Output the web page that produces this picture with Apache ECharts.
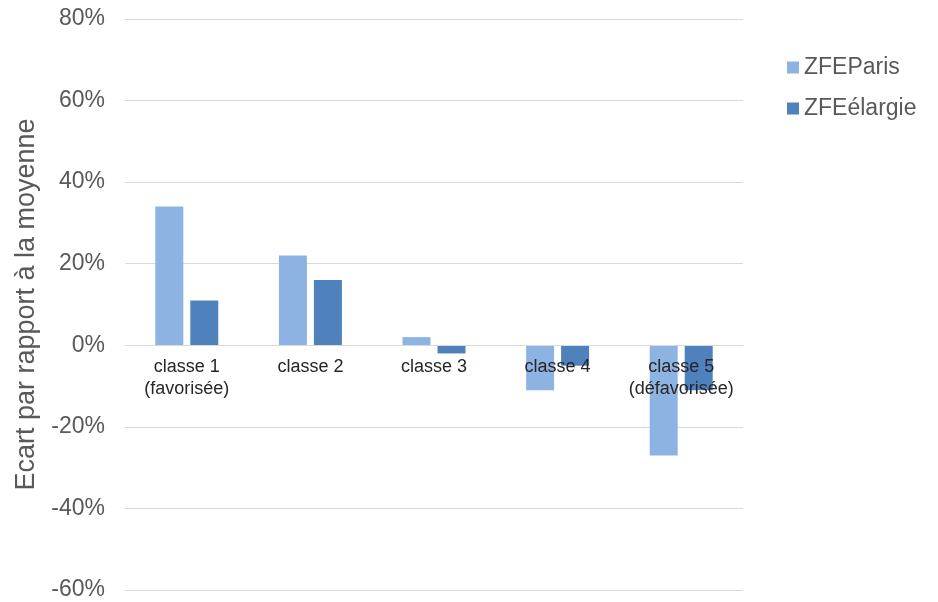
<!DOCTYPE html>
<html>
<head>
<meta charset="utf-8">
<script src="https://cdn.jsdelivr.net/npm/echarts@6/dist/echarts.min.js"></script>
<style>
  html, body { margin: 0; padding: 0; background: #ffffff; }
  #chart { width: 938px; height: 602px; }
</style>
</head>
<body>
<div id="chart"></div>
<script>
// Income classes along the horizontal axis
const categories = ['classe 1\n(favorisée)', 'classe 2', 'classe 3', 'classe 4', 'classe 5\n(défavorisée)'];
// Deviation from the mean, in percent
const zfeParis = [34, 22, 2, -11, -27];
const zfeElargie = [11, 16, -2, -5, -11];
// Value axis bounds and step (percent)
const yMin = -60;
const yMax = 80;
const yStep = 20;

const W = 938, H = 602;
const gridTop = 19, gridBottom = 12;
const gridHeight = H - gridTop - gridBottom;
// Lift the category axis (line + labels) from the bottom edge up to the 0% line
const zeroOffset = -((0 - yMin) / (yMax - yMin)) * gridHeight;

const chart = echarts.init(document.getElementById('chart'), null, { renderer: 'canvas' });

const font = 'Arial, "Liberation Sans", sans-serif';

chart.setOption({
  animation: false,
  textStyle: { fontFamily: font },
  grid: { left: 125, right: 195, top: gridTop, bottom: gridBottom, containLabel: false, outerBoundsMode: 'none' },
  legend: {
    orient: 'vertical',
    left: 782,
    top: 51,
    itemWidth: 12,
    itemHeight: 12,
    itemGap: 18,
    icon: 'rect',
    textStyle: { fontSize: 23, color: '#595959', fontFamily: font },
    data: ['ZFEParis', 'ZFEélargie']
  },
  xAxis: {
    type: 'category',
    data: categories,
    offset: zeroOffset,
    z: 5,
    axisLine: { onZero: false, lineStyle: { color: '#d9d9d9', width: 1 } },
    axisTick: { show: false },
    axisLabel: {
      fontSize: 18,
      color: '#262626',
      lineHeight: 22,
      margin: 11,
      interval: 0
    }
  },
  yAxis: {
    type: 'value',
    min: yMin,
    max: yMax,
    interval: yStep,
    name: 'Ecart par rapport à la moyenne',
    nameLocation: 'middle',
    nameGap: 85,
    nameRotate: 90,
    nameTextStyle: { fontSize: 27, color: '#595959', fontFamily: font },
    axisLine: { show: false },
    axisTick: { show: false },
    axisLabel: {
      fontSize: 23,
      color: '#595959',
      margin: 20,
      formatter: v => v + '%'
    },
    splitLine: { lineStyle: { color: '#d9d9d9', width: 1 } }
  },
  series: [
    {
      name: 'ZFEParis',
      type: 'bar',
      data: zfeParis,
      barWidth: 28,
      barGap: '25%',
      z: 1,
      itemStyle: { color: '#8db3e2' }
    },
    {
      name: 'ZFEélargie',
      type: 'bar',
      data: zfeElargie,
      barWidth: 28,
      barGap: '25%',
      z: 1,
      itemStyle: { color: '#4f81bd' }
    }
  ]
});
</script>
</body>
</html>
